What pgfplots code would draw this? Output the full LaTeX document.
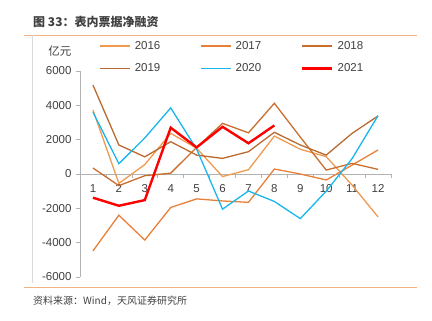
\documentclass[border=0pt]{standalone}
\usepackage{pgfplots}
\pgfplotsset{compat=1.18}
\usepackage{fontspec}
\setmainfont{Liberation Sans}
\newfontfamily\cjk{Noto Sans CJK SC}
\definecolor{c16}{HTML}{F09A50}
\definecolor{c17}{HTML}{E8803A}
\definecolor{c18}{HTML}{C96E2E}
\definecolor{c19}{HTML}{B86A30}
\definecolor{c20}{HTML}{19B6EE}
\definecolor{c21}{HTML}{FF0000}
\definecolor{frame}{HTML}{F4B183}
\definecolor{txt}{HTML}{404040}
\begin{document}
\begin{tikzpicture}[x=1pt,y=1pt]
\useasboundingbox (0,0) rectangle (432,321);
\node[anchor=west, inner sep=0, text=txt] at (33,299) {\cjk\fontsize{12}{14}\selectfont\bfseries 图 33：表内票据净融资};
\draw[frame, line width=0.9pt] (24,286) -- (417,286);
\draw[frame, line width=0.9pt] (24,34) -- (417,34);
\draw[gray!30, line width=0.6pt] (32,286) -- (32,38);
\node[anchor=west, inner sep=0, text=txt] at (33,20) {\cjk\fontsize{10}{12}\selectfont 资料来源：Wind，天风证券研究所};
\node[inner sep=0, text=txt] at (60,270) {\cjk\fontsize{11.5}{13}\selectfont 亿元};
\begin{axis}[
  at={(80pt,44pt)}, anchor=south west, scale only axis,
  width=311pt, height=206pt,
  xmin=0.5, xmax=12.5, ymin=-6000, ymax=6000,
  axis x line=middle, axis y line=left,
  axis line style={draw=gray!60, line width=0.6pt, -},
  xtick={1,...,12},
  minor xtick={0.5,1.5,...,12.5},
  x tick style={draw=none},
  minor x tick style={draw=gray!60, line width=0.6pt},
  minor tick length=4pt,
  xtick align=outside,
  ytick={-6000,-4000,...,6000},
  ytick align=outside,
  y tick style={draw=gray!60, line width=0.6pt},
  major tick length=4pt,
  scaled y ticks=false,
  /pgf/number format/1000 sep={},
  /pgf/number format/assume math mode=true,
  tick label style={font=\fontsize{11.5}{13}\selectfont, text=txt},
  xticklabel style={yshift=-3pt},
  yticklabel style={xshift=-1pt},
  legend columns=3,
  legend style={at={(0.062,1.155)}, anchor=north west, draw=none, fill=none,
    inner sep=0pt, font=\fontsize{11.5}{13}\selectfont, text=txt,
    row sep=9pt,
    /tikz/every even column/.append style={column sep=38pt},
    /tikz/every odd column/.append style={column sep=2pt}},
  legend image code/.code={\draw[#1] (0pt,0pt) -- (30pt,0pt);},
  every axis plot/.append style={line width=1.3pt, mark=none},
]
\addplot[c16] coordinates {(1,3730) (2,-550) (3,550) (4,2370) (5,1500) (6,-150) (7,250) (8,2210) (9,1440) (10,1010) (11,-650) (12,-2500)};
\addlegendentry{2016}
\addplot[c17] coordinates {(1,-4480) (2,-2400) (3,-3850) (4,-1950) (5,-1450) (6,-1570) (7,-1650) (8,290) (9,0) (10,-350) (11,520) (12,1400)};
\addlegendentry{2017}
\addplot[c18] coordinates {(1,350) (2,-680) (3,-100) (4,50) (5,1550) (6,2950) (7,2400) (8,4120) (9,2150) (10,230) (11,620) (12,270)};
\addlegendentry{2018}
\addplot[c19] coordinates {(1,5180) (2,1690) (3,1000) (4,1880) (5,1100) (6,910) (7,1300) (8,2430) (9,1690) (10,1100) (11,2370) (12,3380)};
\addlegendentry{2019}
\addplot[c20] coordinates {(1,3600) (2,600) (3,2100) (4,3850) (5,1450) (6,-2050) (7,-990) (8,-1600) (9,-2600) (10,-1000) (11,900) (12,3400)};
\addlegendentry{2020}
\addplot[c21, line width=2.4pt] coordinates {(1,-1380) (2,-1850) (3,-1520) (4,2700) (5,1550) (6,2750) (7,1790) (8,2830)};
\addlegendentry{2021}
\end{axis}
\end{tikzpicture}
\end{document}
